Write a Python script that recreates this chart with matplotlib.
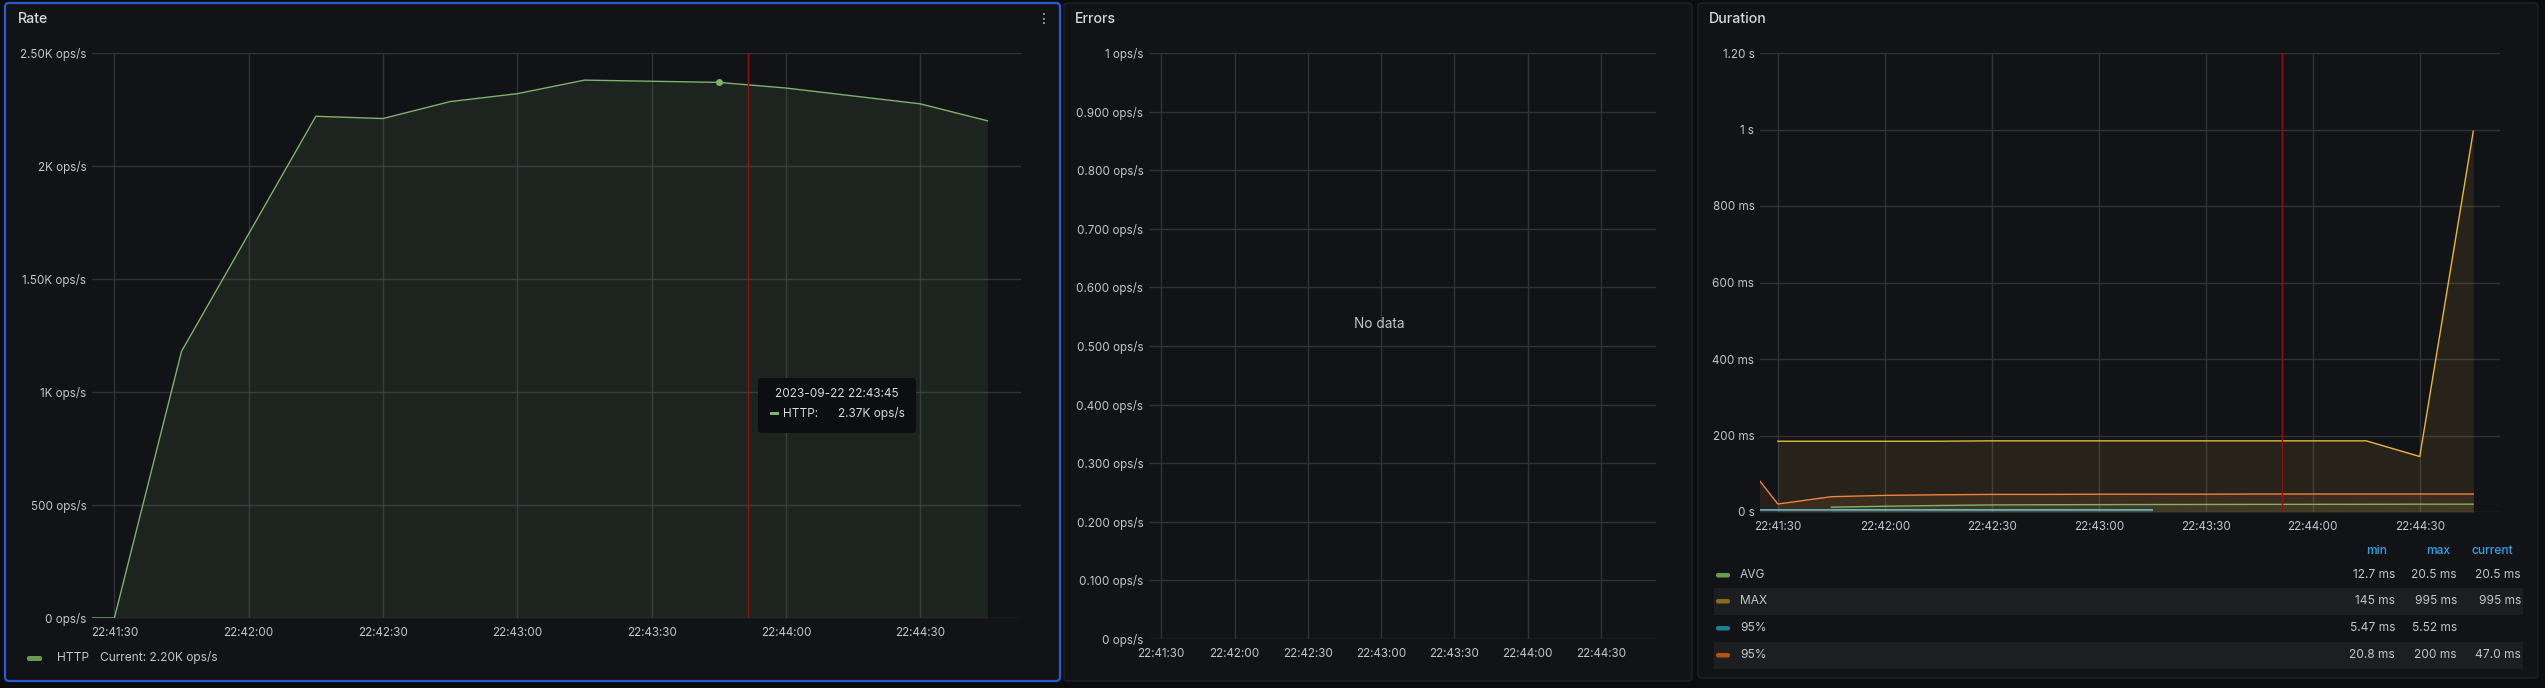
import matplotlib
matplotlib.use("Agg")
import numpy as np
import matplotlib.pyplot as plt
from matplotlib.patches import FancyBboxPatch, Rectangle

plt.rcParams['font.family'] = ['Inter', 'DejaVu Sans']

W, H = 2545, 688

# data
times = ["22:41:15", "22:41:30", "22:41:45", "22:42:00", "22:42:15", "22:42:30",
         "22:42:45", "22:43:00", "22:43:15", "22:43:30", "22:43:45", "22:44:00",
         "22:44:15", "22:44:30", "22:44:45"]
tick_times = ["22:41:30", "22:42:00", "22:42:30", "22:43:00", "22:43:30", "22:44:00", "22:44:30"]
x_start, x_end = "22:41:25", "22:44:52"
cursor_time = "22:43:51"

rate_http = [0, 0, 1180, 1700, 2220, 2210, 2285, 2320, 2380, 2375, 2370, 2345, 2310, 2275, 2200]
rate_ticks = [0, 500, 1000, 1500, 2000, 2500]
rate_labels = ["0 ops/s", "500 ops/s", "1K ops/s", "1.50K ops/s", "2K ops/s", "2.50K ops/s"]
hover_time, hover_value = "22:43:45", 2370

err_ticks = [0, 0.1, 0.2, 0.3, 0.4, 0.5, 0.6, 0.7, 0.8, 0.9, 1.0]
err_labels = ["0 ops/s", "0.100 ops/s", "0.200 ops/s", "0.300 ops/s", "0.400 ops/s",
              "0.500 ops/s", "0.600 ops/s", "0.700 ops/s", "0.800 ops/s", "0.900 ops/s", "1 ops/s"]

nan = np.nan
dur_avg = [nan, nan, 12.7, 15.0, 17.0, 18.5, 19.0, 19.3, 19.6, 19.8, 20.0, 20.1, 20.2, 20.4, 20.5]
dur_max = [nan, 185, 185, 185, 185, 186, 186, 186, 186, 186, 186, 186, 186, 145, 995]
dur_p95a = [5.50, 5.47, 5.50, 5.52, 5.50, 5.49, 5.51, 5.50, 5.52, nan, nan, nan, nan, nan, nan]
dur_p95b = [200, 20.8, 40, 43.5, 45, 46, 46, 46.5, 46.5, 46.5, 47, 47, 47, 47, 47]
dur_ticks = [0, 200, 400, 600, 800, 1000, 1200]
dur_labels = ["0 s", "200 ms", "400 ms", "600 ms", "800 ms", "1 s", "1.20 s"]

legend_names = ["AVG", "MAX", "95%", "95%"]
legend_min = ["12.7 ms", "145 ms", "5.47 ms", "20.8 ms"]
legend_max = ["20.5 ms", "995 ms", "5.52 ms", "200 ms"]
legend_cur = ["20.5 ms", "995 ms", "", "47.0 ms"]

BG = "#0b0c0e"
PANEL = "#121317"
GRID = "#303237"
TXT = "#c4c5cd"
TITLE = "#d8d9e0"
GREEN, YELLOW, CYAN, ORANGE = "#7EB26D", "#EAB839", "#6ED0E0", "#EF843C"
SW_GREEN, SW_YELLOW, SW_CYAN, SW_ORANGE = "#6A9A4F", "#8A6B10", "#217F92", "#B4510F"


def sec(t):
    h, m, s = map(int, t.split(":"))
    return h * 3600 + m * 60 + s


tx = np.array([sec(t) for t in times])

fig = plt.figure(figsize=(W / 100, H / 100), dpi=100, facecolor=BG)


def fx(x):
    return x / W


def fy(y):
    return 1 - y / H


def rbox(x0, y0, x1, y1, fc, ec="none", lw=1.0, r=4, z=-10):
    p = FancyBboxPatch((fx(x0), fy(y1)), (x1 - x0) / W, (y1 - y0) / H,
                       boxstyle="round,pad=0,rounding_size=%f" % (r / W),
                       mutation_aspect=W / H, transform=fig.transFigure,
                       fc=fc, ec=ec, lw=lw, zorder=z)
    fig.patches.append(p)


def make_ax(x0, y0, x1, y1, yticks, ylabels):
    ax = fig.add_axes([fx(x0), fy(y1), (x1 - x0) / W, (y1 - y0) / H])
    ax.set_facecolor("none")
    for s in ax.spines.values():
        s.set_visible(False)
    ax.set_xlim(sec(x_start), sec(x_end) + 0.5)
    ax.set_xticks([sec(t) for t in tick_times])
    ax.set_xticklabels(tick_times)
    ax.set_yticks(yticks)
    ax.set_yticklabels(ylabels)
    ax.set_ylim(yticks[0], yticks[-1])
    ax.grid(True, color=GRID, lw=1)
    ax.set_axisbelow(True)
    ax.tick_params(axis="x", length=0, colors=TXT, labelsize=8.4, pad=6.5)
    ax.tick_params(axis="y", length=0, colors=TXT, labelsize=8.4, pad=4)
    return ax


# panels
rbox(5, 3, 1060, 681, PANEL, ec="#2a5bd0", lw=1.6)
rbox(1064, 3, 1692, 681, PANEL, ec="#202226")
rbox(1698, 3, 2538, 678, PANEL, ec="#202226")

fig.text(fx(18), fy(19), "Rate", color=TITLE, fontsize=10.2, fontweight="medium", va="center")
fig.text(fx(1044), fy(19), "\u22ee", color=TXT, fontsize=10, va="center", ha="center",
         family=["DejaVu Sans"])
fig.text(fx(1075), fy(19), "Errors", color=TITLE, fontsize=10.2, fontweight="medium", va="center")
fig.text(fx(1709), fy(19), "Duration", color=TITLE, fontsize=10.2, fontweight="medium", va="center")

# Rate
ax1 = make_ax(92, 53, 1021, 618, rate_ticks, rate_labels)
ax1.fill_between(tx, rate_http, 0, color=GREEN, alpha=0.1, lw=0)
ax1.plot(tx, rate_http, color=GREEN, lw=1)
ax1.axvline(sec(cursor_time) + 0.5, color="#8f1212", lw=1)
ax1.plot([sec(hover_time)], [hover_value], "o", ms=4, color=GREEN)

rbox(27, 656, 42, 661, SW_GREEN, r=2, z=1)
fig.text(fx(57), fy(658), "HTTP", color=TXT, fontsize=8.6, va="center")
fig.text(fx(100), fy(658), "Current: 2.20K ops/s", color=TXT, fontsize=8.6, va="center")

# tooltip
rbox(758, 378, 916, 433, "#0d0e11", r=4, z=5)
fig.text(fx(837), fy(394), "2023-09-22 " + hover_time, color=TITLE, fontsize=8.5,
         ha="center", va="center", zorder=6)
fig.patches.append(Rectangle((fx(770), fy(415)), 9 / W, 3 / H, transform=fig.transFigure,
                             fc=GREEN, ec="none", zorder=6))
fig.text(fx(783), fy(414), "HTTP:", color=TITLE, fontsize=8.5, va="center", zorder=6)
fig.text(fx(905), fy(414), "2.37K ops/s", color=TITLE, fontsize=8.5, va="center",
         ha="right", zorder=6)

# Errors
ax2 = make_ax(1149, 53, 1656, 639, err_ticks, err_labels)
fig.text(fx(1379), fy(324), "No data", color=TXT, fontsize=9.8, ha="center", va="center")

# Duration
ax3 = make_ax(1760, 53, 2500, 512, dur_ticks, dur_labels)
series = [(dur_max, YELLOW), (dur_p95b, ORANGE), (dur_avg, GREEN), (dur_p95a, CYAN)]
for vals, col in series:
    v = np.array(vals, dtype=float)
    m = ~np.isnan(v)
    ax3.fill_between(tx[m], v[m], 0, color=col, alpha=0.1, lw=0)
for vals, col in series:
    ax3.plot(tx, vals, color=col, lw=1)
ax3.axvline(sec(cursor_time) + 0.5, color="#8f1212", lw=1)

# Duration legend table
HEAD = "#33a2e5"
for lbl, xc in [("min", 2377), ("max", 2438), ("current", 2492)]:
    fig.text(fx(xc), fy(551), lbl, color=HEAD, fontsize=8.6, fontweight="medium",
             ha="center", va="center")
row_y = [575, 601, 628, 655]
swatches = [SW_GREEN, SW_YELLOW, SW_CYAN, SW_ORANGE]
for i, y in enumerate(row_y):
    if i % 2 == 1:
        fig.patches.append(Rectangle((fx(1714), fy(y + 13.5)), 809 / W, 27 / H,
                                     transform=fig.transFigure, fc="#1d1e22", ec="none",
                                     zorder=-5))
    rbox(1716, y - 2, 1730, y + 2.5, swatches[i], r=2, z=1)
    fig.text(fx(1740), fy(y), legend_names[i], color=TXT, fontsize=8.6, va="center")
    fig.text(fx(2395), fy(y), legend_min[i], color=TXT, fontsize=8.6, va="center", ha="right")
    fig.text(fx(2457), fy(y), legend_max[i], color=TXT, fontsize=8.6, va="center", ha="right")
    fig.text(fx(2521), fy(y), legend_cur[i], color=TXT, fontsize=8.6, va="center", ha="right")

fig.savefig("out.png", dpi=100, facecolor=BG)
